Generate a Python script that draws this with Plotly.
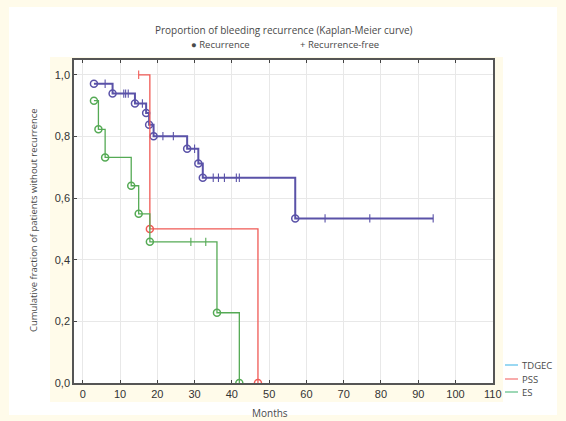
import plotly.graph_objects as go

# ---------------- data ----------------
# TDGEC
tdgec_event_t = [3, 8, 14, 17, 17.8, 19, 28, 31, 32.2, 57]
tdgec_event_s = [0.971, 0.939, 0.907, 0.876, 0.838, 0.801, 0.760, 0.712, 0.666, 0.534]
tdgec_cens_t = [6, 11, 11.5, 12.2, 16, 21.5, 24.3, 30, 35, 36.4, 38, 41.2, 42, 65, 77, 94]
tdgec_cens_s = [0.971, 0.939, 0.939, 0.939, 0.907, 0.801, 0.801, 0.760,
                0.666, 0.666, 0.666, 0.666, 0.666, 0.534, 0.534, 0.534]
# PSS
pss_event_t = [18, 47]
pss_event_s = [0.5, 0.0]
pss_cens_t = [15]
pss_cens_s = [1.0]
# ES
es_event_t = [3, 4.2, 6, 13, 15, 18, 36, 42]
es_event_s = [0.916, 0.823, 0.732, 0.640, 0.549, 0.458, 0.228, 0.0]
es_cens_t = [29, 33]
es_cens_s = [0.458, 0.458]

group_names = ["TDGEC", "PSS", "ES"]
x_ticks = list(range(0, 111, 10))
y_ticks = [0.0, 0.2, 0.4, 0.6, 0.8, 1.0]

title_text = "Proportion of bleeding recurrence (Kaplan-Meier curve)"
x_title = "Months"
y_title = "Cumulative fraction of patients without recurrence"

# ---------------- styling ----------------
line_colors = ["#5a52a8", "#f05a55", "#55aa55"]
line_widths = [2.0, 1.3, 1.3]
legend_colors = ["#9ad8f2", "#f8abab", "#9dd8b6"]
CREAM = "#fffbea"
TXT = "#4a4a4a"
TEXT_FONT = "Open Sans"
TICK_FONT = "Liberation Sans"

groups = [
    (tdgec_event_t, tdgec_event_s, tdgec_cens_t, tdgec_cens_s),
    (pss_event_t, pss_event_s, pss_cens_t, pss_cens_s),
    (es_event_t, es_event_s, es_cens_t, es_cens_s),
]

fig = go.Figure()
for (et, es, ct, cs), name, col, lw in zip(groups, group_names, line_colors, line_widths):
    pts = sorted(list(zip(et, es)) + list(zip(ct, cs)), key=lambda p: p[0])
    fig.add_trace(go.Scatter(
        x=[p[0] for p in pts], y=[p[1] for p in pts], mode="lines",
        line=dict(color=col, width=lw, shape="hv"), name=name, showlegend=False,
        hoverinfo="skip"))
    fig.add_trace(go.Scatter(
        x=ct, y=cs, mode="markers", showlegend=False, hoverinfo="skip",
        marker=dict(symbol="line-ns-open", size=6, color=col,
                    line=dict(color=col, width=1.1))))
    fig.add_trace(go.Scatter(
        x=et, y=es, mode="markers", showlegend=False, hoverinfo="skip",
        marker=dict(symbol="circle-open", size=7, color=col, line=dict(color=col, width=1.5))))

# plot area geometry (pixels)
L, R, T, B = 74, 493, 60, 383
W, H = 566, 421
pw, ph = R - L, B - T


def px(x):
    return (x - L) / pw


def py(y):
    return (B - y) / ph


shapes = [
    dict(type="rect", xref="paper", yref="paper", layer="below",
         x0=px(9), x1=px(557), y0=py(415), y1=py(7), fillcolor="white", line=dict(width=0)),
    dict(type="rect", xref="paper", yref="paper", layer="below",
         x0=px(50), x1=px(503), y0=py(402), y1=py(57), fillcolor=CREAM, line=dict(width=0)),
    dict(type="rect", xref="paper", yref="paper", layer="below",
         x0=0, x1=1, y0=0, y1=1, fillcolor="white", line=dict(width=0)),
]


def ann(text, x, y, size=9.5, **kw):
    d = dict(text=text, x=px(x), y=py(y), xref="paper", yref="paper",
             xanchor="center", yanchor="middle", showarrow=False,
             font=dict(family=TEXT_FONT, size=size, color=TXT))
    d.update(kw)
    return d


annotations = [
    ann(title_text, 284, 30, size=10),
    ann("● Recurrence", 220, 44, size=9.5),
    ann("+ Recurrence-free", 339, 44, size=9.5),
    ann(x_title, 270, 413, size=10),
    ann(y_title, 34, 220, size=9.5, textangle=-90),
]

# manual legend (swatch lines + labels)
legend_y = [365, 379, 392]
for name, lc, yy in zip(group_names, legend_colors, legend_y):
    shapes.append(dict(type="line", xref="paper", yref="paper", x0=px(505), x1=px(518),
                       y0=py(yy), y1=py(yy), line=dict(color=lc, width=2)))
    annotations.append(ann(name, 520, yy, size=9.5, xanchor="left"))

fig.update_layout(
    width=W, height=H, autosize=False,
    margin=dict(l=L, r=W - R, t=T, b=H - B, pad=0),
    paper_bgcolor=CREAM, plot_bgcolor="white",
    separators=",.",
    shapes=shapes, annotations=annotations, showlegend=False,
    xaxis=dict(range=[-2.35, 110.05], tickvals=x_ticks, ticks="inside", ticklen=3,
               tickcolor="#444", showline=True, linecolor="#555", linewidth=1.5,
               mirror="ticks", showgrid=True, gridcolor="#e8e8e8", gridwidth=1,
               zeroline=False, tickfont=dict(family=TICK_FONT, size=11, color="#333")),
    yaxis=dict(range=[0, 1.048], tickvals=y_ticks, tickformat=".1f", ticks="inside",
               ticklen=3, tickcolor="#444", showline=True, linecolor="#555",
               linewidth=1.5, mirror=True, showgrid=True, gridcolor="#e8e8e8",
               gridwidth=1, zeroline=False,
               tickfont=dict(family=TICK_FONT, size=11, color="#333")),
    yaxis2=dict(overlaying="y", side="right", range=[0, 6.247], dtick=1, ticks="inside",
                ticklen=3, tickcolor="#444", showticklabels=False, showgrid=False,
                showline=False, zeroline=False),
)

fig.write_html("out.html", config={"displayModeBar": False})
